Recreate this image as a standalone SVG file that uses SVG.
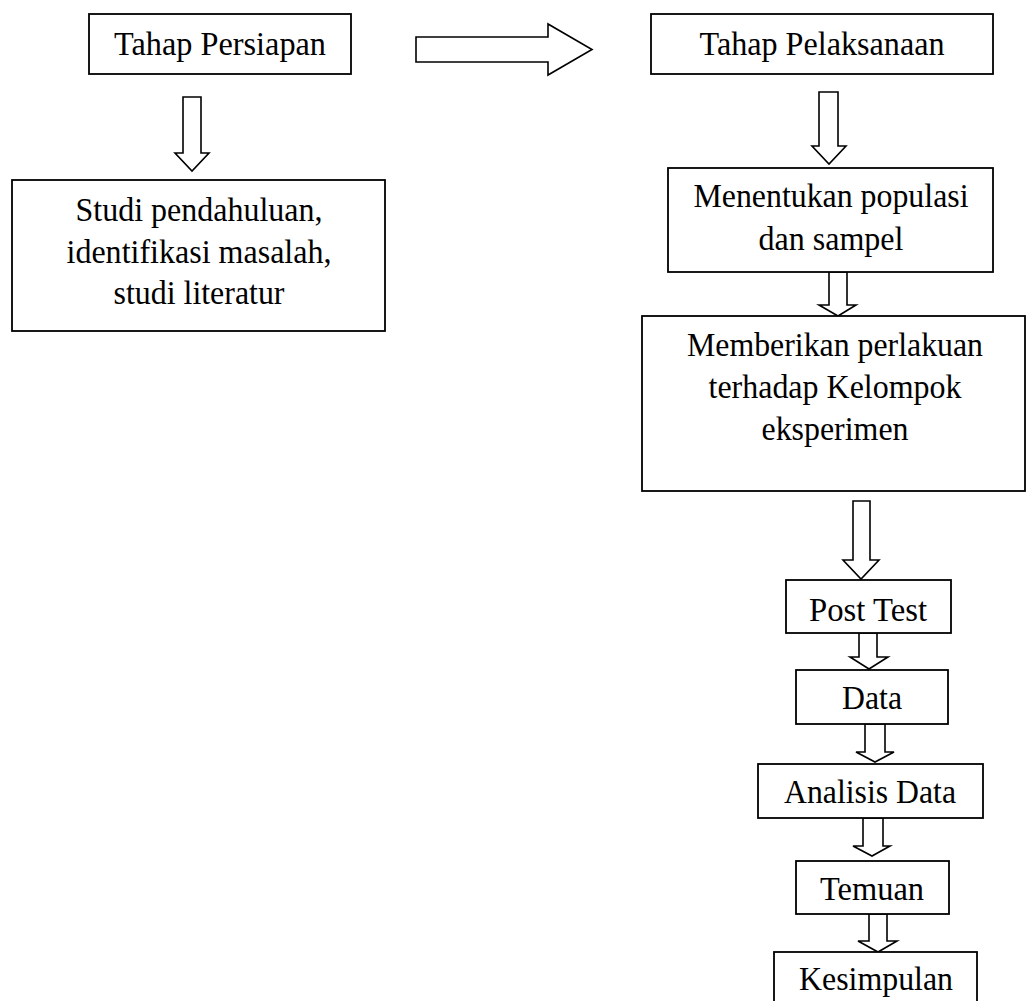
<svg xmlns="http://www.w3.org/2000/svg" width="1027" height="1001" viewBox="0 0 1027 1001">
<style>
.box{fill:#fff;stroke:#000;stroke-width:1.8}
.arr{fill:#fff;stroke:#000;stroke-width:1.6;stroke-linejoin:miter}
.t{font-family:"Liberation Serif","Times New Roman",serif;font-size:34px;fill:#000;text-anchor:middle}
</style>
<rect width="1027" height="1001" fill="#fff"/>
<g id="connectors">
<polygon class="arr" points="183,97 201,97 201,153 209,153 192,171 175,153 183,153"/>
<polygon class="arr" points="416,37 548,37 548,24 592,49.5 548,75 548,62 416,62"/>
<polygon class="arr" points="819,92 838,92 838,146 846,146 829,164 812,146 819,146"/>
<polygon class="arr" points="829,272 847,272 847,305 856,305 838,316 819,305 829,305"/>
<polygon class="arr" points="853,501 870,501 870,560 879,560 861,579 843,560 853,560"/>
<polygon class="arr" points="859,633 877,633 877,657 888,657 869,669 850,657 859,657"/>
<polygon class="arr" points="865,724 885,724 885,752 894,752 875,762 856,752 865,752"/>
<polygon class="arr" points="863,818 883,818 883,846 890,846 872,856 853,846 863,846"/>
<polygon class="arr" points="869,914 887,914 887,941 897,941 878,952 858,941 869,941"/>
</g>
<g id="n-persiapan"><rect class="box" x="89" y="14" width="262" height="60"/><text class="t" x="220" y="55" textLength="212" lengthAdjust="spacingAndGlyphs">Tahap Persiapan</text></g>
<g id="n-studi"><rect class="box" x="12" y="180" width="373" height="151"/>
<text class="t" x="199" y="221" textLength="247" lengthAdjust="spacingAndGlyphs">Studi pendahuluan,</text>
<text class="t" x="199" y="263" textLength="265" lengthAdjust="spacingAndGlyphs">identifikasi masalah,</text>
<text class="t" x="199" y="304" textLength="171" lengthAdjust="spacingAndGlyphs">studi literatur</text></g>
<g id="n-pelaksanaan"><rect class="box" x="651" y="14" width="342" height="60"/><text class="t" x="822" y="55" textLength="245" lengthAdjust="spacingAndGlyphs">Tahap Pelaksanaan</text></g>
<g id="n-populasi"><rect class="box" x="668" y="168" width="325" height="104"/>
<text class="t" x="831" y="207" textLength="275" lengthAdjust="spacingAndGlyphs">Menentukan populasi</text>
<text class="t" x="831" y="250" textLength="145" lengthAdjust="spacingAndGlyphs">dan sampel</text></g>
<g id="n-perlakuan"><rect class="box" x="642" y="316" width="383" height="175"/>
<text class="t" x="835" y="356" textLength="296" lengthAdjust="spacingAndGlyphs">Memberikan perlakuan</text>
<text class="t" x="835" y="398" textLength="253" lengthAdjust="spacingAndGlyphs">terhadap Kelompok</text>
<text class="t" x="835" y="440" textLength="147" lengthAdjust="spacingAndGlyphs">eksperimen</text></g>
<g id="n-posttest"><rect class="box" x="786" y="580" width="165" height="53"/><text class="t" x="868" y="621" textLength="118" lengthAdjust="spacingAndGlyphs">Post Test</text></g>
<g id="n-data"><rect class="box" x="796" y="670" width="152" height="54"/><text class="t" x="872" y="709" textLength="60" lengthAdjust="spacingAndGlyphs">Data</text></g>
<g id="n-analisis"><rect class="box" x="758" y="764" width="225" height="54"/><text class="t" x="870" y="803" textLength="172" lengthAdjust="spacingAndGlyphs">Analisis Data</text></g>
<g id="n-temuan"><rect class="box" x="796" y="861" width="153" height="53"/><text class="t" x="872" y="900" textLength="104" lengthAdjust="spacingAndGlyphs">Temuan</text></g>
<g id="n-kesimpulan"><rect class="box" x="774" y="952" width="203" height="60"/><text class="t" x="876" y="990" textLength="154" lengthAdjust="spacingAndGlyphs">Kesimpulan</text></g>
</svg>
